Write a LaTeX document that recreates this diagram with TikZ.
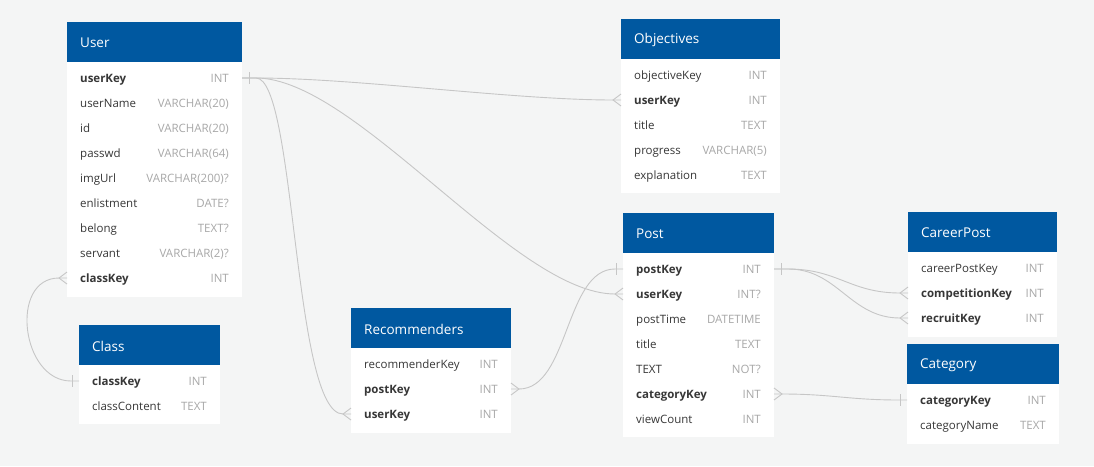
\documentclass[tikz,border=0pt]{standalone}
\usepackage{fontspec}
\setmainfont{Open Sans}
\definecolor{hdrblue}{RGB}{0,88,160}
\definecolor{bggrey}{RGB}{244,245,245}
\definecolor{linkgrey}{RGB}{198,198,198}
\definecolor{namegrey}{RGB}{55,55,55}
\definecolor{typegrey}{RGB}{168,168,168}

\tikzset{
  tblhead/.style={anchor=west, inner xsep=13pt, text=white, font=\fontsize{13.5}{16}\selectfont},
  fld/.style={anchor=west, inner xsep=13pt, inner ysep=0pt, text height=10.5pt, text depth=1pt, text=namegrey, font=\fontsize{11.5}{14}\selectfont},
  keyfld/.style={fld, font=\fontsize{11.5}{14}\selectfont\bfseries},
  typ/.style={anchor=east, inner xsep=13pt, inner ysep=0pt, text height=10.5pt, text depth=1pt, text=typegrey, font=\fontsize{11.5}{14}\selectfont},
  link/.style={draw=linkgrey, line width=0.9pt},
  crowfoot/.pic={\draw[link] (0,-6) -- (-8,0) -- (0,6);},
  onebar/.pic={\draw[link] (0,-6) -- (0,6);}
}

\begin{document}
\begin{tikzpicture}[x=1pt, y=-1pt]
\fill[bggrey] (0,0) rectangle (1094,466);

% User
\fill[white] (67,61) rectangle (242,297);
\fill[hdrblue] (67,22) rectangle (242,61.5);
\node[tblhead] (U) at (67,43) {User};
\node[keyfld] (U1) at (67,78) {userKey};     \node[typ] (U1t) at (242,78) {INT};
\node[fld] (U2) at (67,103) {userName};      \node[typ] (U2t) at (242,103) {VARCHAR(20)};
\node[fld] (U3) at (67,128) {id};            \node[typ] (U3t) at (242,128) {VARCHAR(20)};
\node[fld] (U4) at (67,153) {passwd};        \node[typ] (U4t) at (242,153) {VARCHAR(64)};
\node[fld] (U5) at (67,178) {imgUrl};        \node[typ] (U5t) at (242,178) {VARCHAR(200)?};
\node[fld] (U6) at (67,203) {enlistment};    \node[typ] (U6t) at (242,203) {DATE?};
\node[fld] (U7) at (67,228) {belong};        \node[typ] (U7t) at (242,228) {TEXT?};
\node[fld] (U8) at (67,253) {servant};       \node[typ] (U8t) at (242,253) {VARCHAR(2)?};
\node[keyfld] (U9) at (67,278) {classKey};   \node[typ] (U9t) at (242,278) {INT};

% Objectives
\fill[white] (621,58) rectangle (780,193);
\fill[hdrblue] (621,19) rectangle (780,58.5);
\node[tblhead] (O) at (621,40) {Objectives};
\node[fld] (O1) at (621,75) {objectiveKey};  \node[typ] (O1t) at (780,75) {INT};
\node[keyfld] (O2) at (621,100) {userKey};   \node[typ] (O2t) at (780,100) {INT};
\node[fld] (O3) at (621,125) {title};        \node[typ] (O3t) at (780,125) {TEXT};
\node[fld] (O4) at (621,150) {progress};     \node[typ] (O4t) at (780,150) {VARCHAR(5)};
\node[fld] (O5) at (621,175) {explanation};  \node[typ] (O5t) at (780,175) {TEXT};

% Post
\fill[white] (623,252) rectangle (774,437);
\fill[hdrblue] (623,213) rectangle (774,253);
\node[tblhead] (P) at (623,234) {Post};
\node[keyfld] (P1) at (623,269) {postKey};     \node[typ] (P1t) at (774,269) {INT};
\node[keyfld] (P2) at (623,294) {userKey};     \node[typ] (P2t) at (774,294) {INT?};
\node[fld] (P3) at (623,319) {postTime};       \node[typ] (P3t) at (774,319) {DATETIME};
\node[fld] (P4) at (623,344) {title};          \node[typ] (P4t) at (774,344) {TEXT};
\node[fld] (P5) at (623,369) {TEXT};           \node[typ] (P5t) at (774,369) {NOT?};
\node[keyfld] (P6) at (623,394) {categoryKey}; \node[typ] (P6t) at (774,394) {INT};
\node[fld] (P7) at (623,419) {viewCount};      \node[typ] (P7t) at (774,419) {INT};

% CareerPost
\fill[white] (908,251) rectangle (1057,337);
\fill[hdrblue] (908,212) rectangle (1057,252);
\node[tblhead] (CP) at (908,233) {CareerPost};
\node[fld] (CP1) at (908,268) {careerPostKey};     \node[typ] (CP1t) at (1057,268) {INT};
\node[keyfld] (CP2) at (908,293) {competitionKey}; \node[typ] (CP2t) at (1057,293) {INT};
\node[keyfld] (CP3) at (908,318) {recruitKey};     \node[typ] (CP3t) at (1057,318) {INT};

% Category
\fill[white] (907,383) rectangle (1059,444);
\fill[hdrblue] (907,344) rectangle (1059,384);
\node[tblhead] (CT) at (907,365) {Category};
\node[keyfld] (CT1) at (907,400) {categoryKey}; \node[typ] (CT1t) at (1059,400) {INT};
\node[fld] (CT2) at (907,425) {categoryName};   \node[typ] (CT2t) at (1059,425) {TEXT};

% Class
\fill[white] (79,364) rectangle (220,424);
\fill[hdrblue] (79,325) rectangle (220,365);
\node[tblhead] (CL) at (79,346) {Class};
\node[keyfld] (CL1) at (79,381) {classKey}; \node[typ] (CL1t) at (220,381) {INT};
\node[fld] (CL2) at (79,406) {classContent}; \node[typ] (CL2t) at (220,406) {TEXT};

% Recommenders
\fill[white] (351,347) rectangle (511,433);
\fill[hdrblue] (351,308) rectangle (511,348);
\node[tblhead] (R) at (351,329) {Recommenders};
\node[fld] (R1) at (351,364) {recommenderKey}; \node[typ] (R1t) at (511,364) {INT};
\node[keyfld] (R2) at (351,389) {postKey};     \node[typ] (R2t) at (511,389) {INT};
\node[keyfld] (R3) at (351,414) {userKey};     \node[typ] (R3t) at (511,414) {INT};

% links
\draw[link] (U1t.east) -- ++(14,0) .. controls +(100,0) and +(-100,0) .. ([xshift=-8pt]O2.west) -- (O2.west);
\draw[link] (U1t.east) -- ++(14,0) .. controls +(100,0) and +(-100,0) .. ([xshift=-8pt]P2.west) -- (P2.west);
\draw[link] (U1t.east) -- ++(14,0) .. controls +(40,0) and +(-50,0) .. ([xshift=-8pt]R3.west) -- (R3.west);
\draw[link] (U9.west) -- ++(-8,0) .. controls +(-50,0) and +(-50,0) .. ([xshift=-8pt]CL1.west) -- (CL1.west);
\draw[link] (P1.west) -- ++(-8,0) .. controls +(-50,0) and +(50,0) .. ([xshift=8pt]R2t.east) -- (R2t.east);
\draw[link] (P1t.east) -- ++(14,0) .. controls +(50,0) and +(-50,0) .. ([xshift=-8pt]CP2.west) -- (CP2.west);
\draw[link] (P1t.east) -- ++(14,0) .. controls +(50,0) and +(-50,0) .. ([xshift=-8pt]CP3.west) -- (CP3.west);
\draw[link] (P6t.east) -- ++(8,0) .. controls +(50,0) and +(-50,0) .. ([xshift=-8pt]CT1.west) -- (CT1.west);

\pic at ([xshift=7pt]U1t.east) {onebar};
\pic at (O2.west) {crowfoot};
\pic at (P2.west) {crowfoot};
\pic at (R3.west) {crowfoot};
\pic at (U9.west) {crowfoot};
\pic at ([xshift=-7pt]CL1.west) {onebar};
\pic at ([xshift=-7pt]P1.west) {onebar};
\pic[xscale=-1] at (R2t.east) {crowfoot};
\pic at ([xshift=7pt]P1t.east) {onebar};
\pic at (CP2.west) {crowfoot};
\pic at (CP3.west) {crowfoot};
\pic[xscale=-1] at (P6t.east) {crowfoot};
\pic at ([xshift=-7pt]CT1.west) {onebar};
\end{tikzpicture}
\end{document}
